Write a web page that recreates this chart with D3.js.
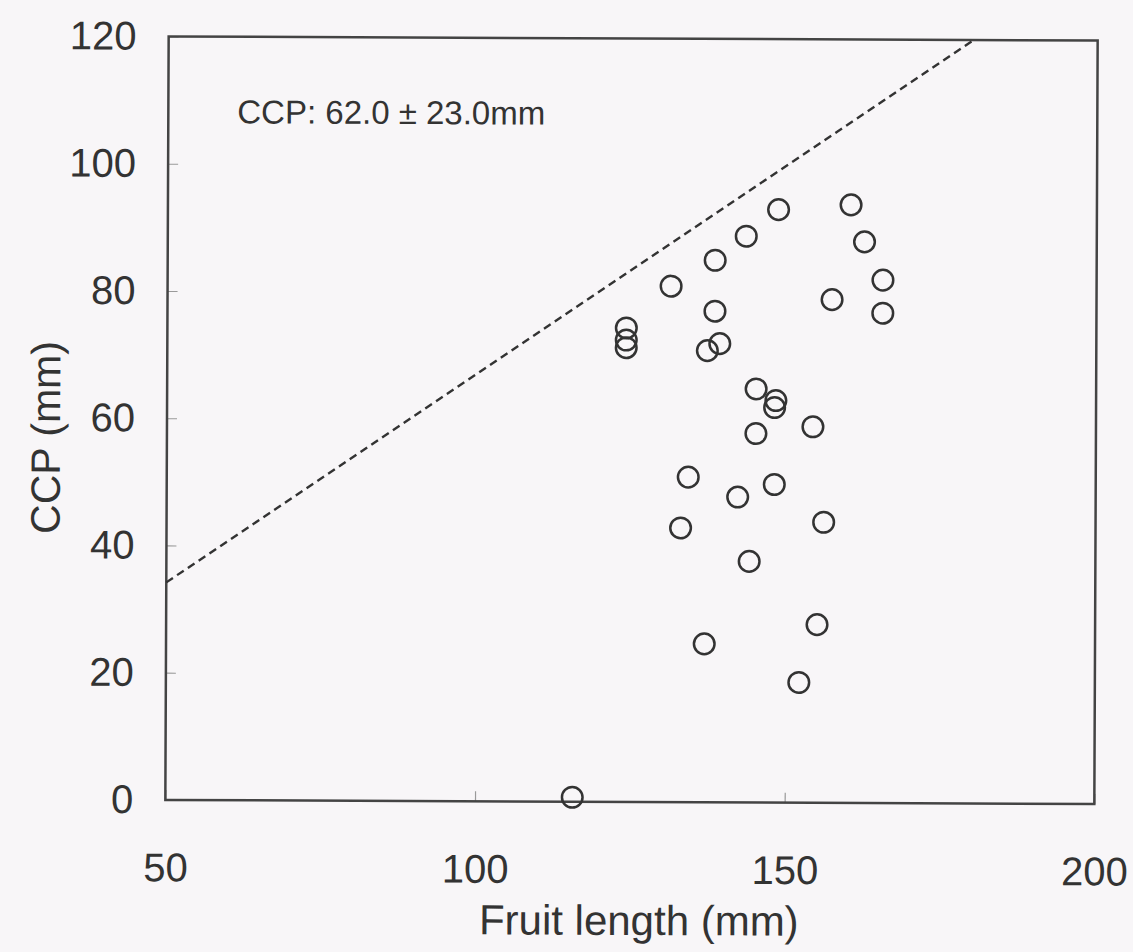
<!DOCTYPE html>
<html>
<head>
<meta charset="utf-8">
<script src="https://cdn.jsdelivr.net/npm/d3@7"></script>
<style>
  html, body { margin: 0; padding: 0; background: #f8f6f8; }
  svg { display: block; }
  text { font-family: "Liberation Sans", Arial, sans-serif; fill: #333; }
</style>
</head>
<body>
<svg id="chart" width="1133" height="952"></svg>
<script>
// Fruit length vs. cutting/clipping position measurements
const fruitLength = [148.6, 160.3, 143.4, 162.5, 138.4, 131.3, 165.5, 157.3, 138.4, 165.5,
                     124.1, 124.1, 124.1, 137.2, 139.2, 145.1, 148.3, 148.1, 145.1, 154.3,
                     134.2, 148.1, 142.2, 133.0, 156.1, 144.1, 136.9, 155.1, 152.2, 115.7];
const ccp = [93.2, 94.0, 89.0, 88.2, 85.2, 81.1, 82.2, 79.1, 77.2, 77.0,
             74.5, 72.6, 71.4, 71.0, 72.1, 65.0, 63.2, 62.1, 58.0, 59.1,
             51.1, 50.0, 48.0, 43.1, 44.1, 37.9, 24.9, 28.0, 18.9, 0.7];

// Reference (dashed) line endpoints
const refLineX = [50, 180];
const refLineY = [34.2, 120];

const xTicks = [50, 100, 150, 200];
const yTicks = [0, 20, 40, 60, 80, 100, 120];

const annotation = "CCP: 62.0 \u00b1 23.0mm";
const xTitle = "Fruit length (mm)";
const yTitle = "CCP (mm)";

const plotLeft = 167, plotRight = 1096, plotTop = 38.5, plotBottom = 802;

const svg = d3.select("#chart");
svg.append("rect").attr("width", 1133).attr("height", 952).attr("fill", "#f8f6f8");

const g = svg.append("g").attr("transform", "rotate(0.25, 631, 420)");

const x = d3.scaleLinear().domain([50, 200]).range([plotLeft, plotRight]);
const y = d3.scaleLinear().domain([0, 120]).range([plotBottom, plotTop]);

// Axes (inward ticks)
const yAxis = g.append("g")
  .attr("transform", `translate(${plotLeft},0)`)
  .call(d3.axisLeft(y).tickValues(yTicks).tickSize(-10).tickPadding(32));
const xAxis = g.append("g")
  .attr("transform", `translate(0,${plotBottom})`)
  .call(d3.axisBottom(x).tickValues(xTicks).tickSize(-10).tickPadding(53));

[yAxis, xAxis].forEach(a => {
  a.select(".domain").remove();
  a.selectAll(".tick line").attr("stroke", "#9a9a9a").attr("stroke-width", 1.2);
  a.selectAll(".tick text").attr("font-size", 40).attr("fill", "#333")
    .style("font-family", "'Liberation Sans', Arial, sans-serif");
});

// Plot frame
g.append("rect")
  .attr("x", plotLeft).attr("y", plotTop)
  .attr("width", plotRight - plotLeft).attr("height", plotBottom - plotTop)
  .attr("fill", "none").attr("stroke", "#444").attr("stroke-width", 2.5);

// Dashed reference line
g.append("line")
  .attr("x1", x(refLineX[0])).attr("y1", y(refLineY[0]))
  .attr("x2", x(refLineX[1])).attr("y2", y(refLineY[1]))
  .attr("stroke", "#333").attr("stroke-width", 2.4)
  .attr("stroke-dasharray", "8,5");

// Data points (open circles)
g.append("g").selectAll("circle")
  .data(fruitLength.map((v, i) => [v, ccp[i]]))
  .join("circle")
  .attr("cx", d => x(d[0]))
  .attr("cy", d => y(d[1]))
  .attr("r", 10.3)
  .attr("fill", "none")
  .attr("stroke", "#333")
  .attr("stroke-width", 2.5);

// Annotation
g.append("text")
  .attr("x", 236).attr("y", 125)
  .attr("font-size", 33)
  .text(annotation);

// Axis titles
g.append("text")
  .attr("x", 641).attr("y", 935)
  .attr("text-anchor", "middle")
  .attr("font-size", 42)
  .text(xTitle);

g.append("text")
  .attr("transform", "translate(60,440) rotate(-90)")
  .attr("text-anchor", "middle")
  .attr("font-size", 41)
  .text(yTitle);
</script>
</body>
</html>
